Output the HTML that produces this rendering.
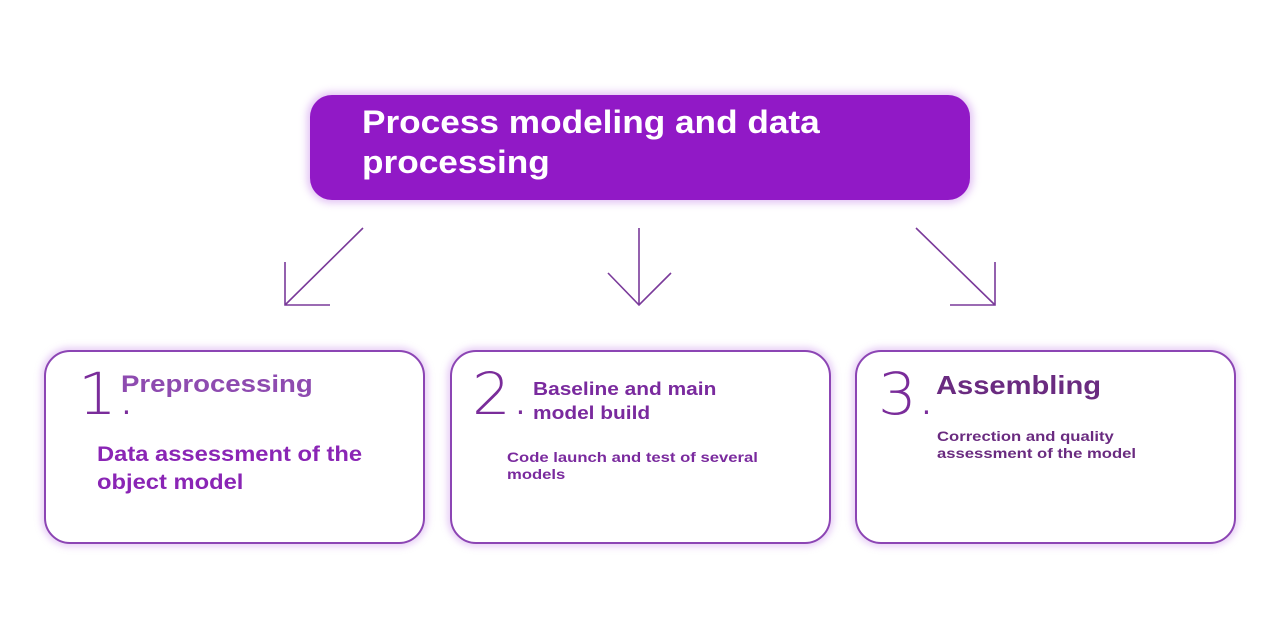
<!DOCTYPE html>
<html><head><meta charset="utf-8"><style>
body{margin:0;width:1280px;height:639px;background:#fff;position:relative;overflow:hidden;font-family:"Liberation Sans",sans-serif}
.main{position:absolute;left:310px;top:95px;width:660px;height:105px;background:#9119c6;border-radius:22px;box-shadow:0 0 8px 3px rgba(190,120,230,.45)}
.mt{position:absolute;left:362px;top:102px;color:#fff;font-weight:bold;font-size:32px;line-height:40px;transform:scaleX(1.1);transform-origin:left;white-space:nowrap}
.box{position:absolute;top:350px;width:377px;height:190px;border:2px solid #8c45b4;border-radius:26px;box-shadow:0 0 7px 3px rgba(190,120,230,.35);background:#fff}
.t{position:absolute;font-weight:bold;white-space:nowrap;transform-origin:left top}
.n{position:absolute;font-weight:100;font-size:58px;color:#7a2c9a;font-family:"DejaVu Sans",sans-serif;transform:scaleX(1.05);transform-origin:left}
</style></head><body>
<div class="main"></div>
<div class="mt">Process modeling and data<br>processing</div>
<svg width="1280" height="639" style="position:absolute;left:0;top:0" fill="none" stroke="#7a3a9a" stroke-width="1.6">
<path d="M363 228L285 305M285 262V305H330"/>
<path d="M639 228V305M608 273L639 305L671 273"/>
<path d="M916 228L995 305M995 262V305H950"/>
</svg>
<div class="box" style="left:44px"></div>
<div class="box" style="left:450px"></div>
<div class="box" style="left:855px"></div>
<div class="n" style="left:78px;top:360px">1.</div>
<div class="t" style="left:121px;top:371px;font-size:24px;color:#8e4bb0;transform:scaleX(1.15)">Preprocessing</div>
<div class="t" style="left:97px;top:441px;font-size:21px;line-height:28px;color:#8a25b5;transform:scaleX(1.13)">Data assessment of the<br>object model</div>
<div class="n" style="left:472px;top:360px">2.</div>
<div class="t" style="left:533px;top:377px;font-size:18px;line-height:24px;color:#7a2a9e;transform:scaleX(1.16)">Baseline and main<br>model build</div>
<div class="t" style="left:507px;top:449px;font-size:14px;line-height:17px;color:#7a2a9e;transform:scaleX(1.19)">Code launch and test of several<br>models</div>
<div class="n" style="left:878px;top:360px">3.</div>
<div class="t" style="left:936px;top:370px;font-size:26px;color:#6a2b80;transform:scaleX(1.12)">Assembling</div>
<div class="t" style="left:937px;top:428px;font-size:14px;line-height:17px;color:#6a2b80;transform:scaleX(1.19)">Correction and quality<br>assessment of the model</div>
</body></html>
